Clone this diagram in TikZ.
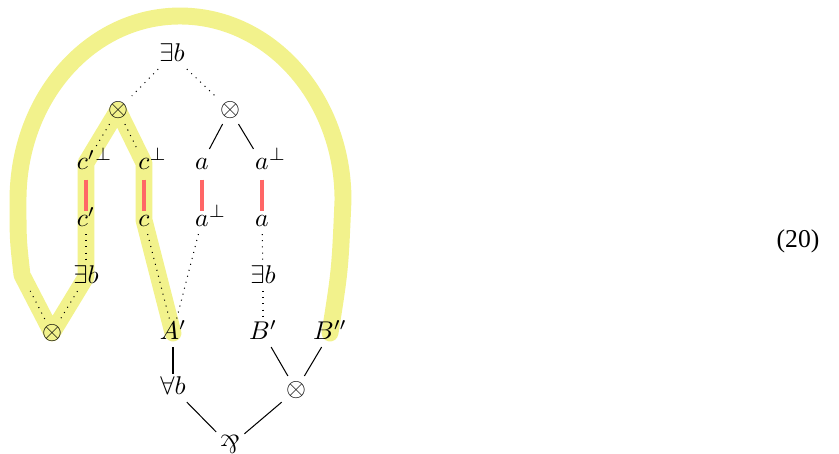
\documentclass[tikz,border=0pt]{standalone}
\usepackage{fontspec}
\usepackage{graphicx}
\usetikzlibrary{backgrounds}
\newfontfamily\eqnfont{Liberation Serif}
\definecolor{hlyellow}{RGB}{242,242,140}
\definecolor{barred}{RGB}{255,102,102}
\newcommand\rperp{\rlap{$^{\perp}$}}
\newcommand\parrsym{\rotatebox[origin=c]{180}{\&}}
\tikzset{
    lbl/.style={inner sep=1.5pt, text height=1.5ex, text depth=.25ex},
    redbar/.style={draw=barred, line width=1.6pt, shorten <=1pt, shorten >=-2pt},
    hl/.style={draw=hlyellow, line width=6.6pt, line cap=round, line join=round}
}
\begin{document}
\begin{tikzpicture}[x=0.0137cm,y=-0.0137cm]
\useasboundingbox (0,0) rectangle (839,453);

\node[lbl] (ex) at (172,55) {$\exists b$};
\node[lbl] (tl) at (118,110) {$\otimes$};
\node[lbl] (tr) at (230,110) {$\otimes$};

\foreach \n/\x/\ntext in {cpp/86/c'\rperp, cp1/144/c\rperp, a1/202/a, ap1/262/a\rperp}
{
    \node[lbl] (\n) at (\x,163) {$\ntext$};
}
\foreach \n/\x/\ntext in {cpr/86/c', c2/144/c, ap2/202/a\rperp, a2/262/a}
{
    \node[lbl] (\n) at (\x,220) {$\ntext$};
}

\node[lbl] (exl) at (86,277) {$\exists b$};
\node[lbl] (exr) at (263,277) {$\exists b$};
\node[lbl] (bl) at (52,333) {$\otimes$};
\node[lbl] (A) at (173,333) {$A'$};
\node[lbl] (B) at (263,333) {$B'$};
\node[lbl] (Bpp) at (330,333) {$B''$};
\node[lbl] (all) at (173,388) {$\forall b$};
\node[lbl] (br) at (296,390) {$\otimes$};
\node[lbl] (par) at (230,446) {\parrsym};
\coordinate (loopend) at (22,275);

\node (eq) at (798,241) {\eqnfont (20)};

% highlighted path
\begin{scope}[on background layer]
\draw[hl] (Bpp.center) .. controls (340,270) .. (343,200)
    .. controls (343,98) and (270,16) .. (180,16)
    .. controls (90,16) and (18,98) .. (18,200)
    .. controls (18,240) .. (loopend)
    -- (bl.center) -- (exl.center) -- (cpr.center) -- (cpp.center)
    -- (tl.center) -- (cp1.center) -- (c2.center) -- (A.center);
\end{scope}

\foreach \a/\b in {ex/tl, ex/tr, tl/cpp, tl/cp1, cpr/exl, exl/bl, c2/A, ap2/A, a2/exr, exr/B}
{
    \draw[dotted] (\a)--(\b);
}
\draw[dotted, shorten >=7pt] (bl)--(loopend);

\foreach \a/\b in {tr/a1, tr/ap1, A/all, all/par, B/br, Bpp/br, br/par}
{
    \draw (\a)--(\b);
}

\foreach \a/\b in {cpp/cpr, cp1/c2, a1/ap2, ap1/a2}
{
    \draw[redbar] (\a)--(\b);
}
\end{tikzpicture}
\end{document}
